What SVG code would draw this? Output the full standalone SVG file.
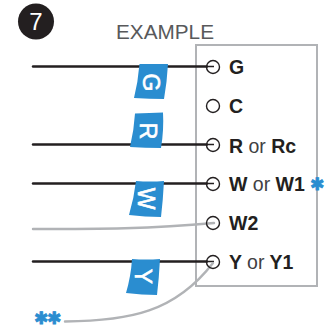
<svg xmlns="http://www.w3.org/2000/svg" width="329" height="328" viewBox="0 0 329 328">
<style>
text{font-family:"Liberation Sans",Arial,sans-serif}
.k{fill:none;stroke:#231f20;stroke-width:2.4;stroke-linecap:round}
.t{fill:none;stroke:#231f20;stroke-width:1.3}
.g{fill:none;stroke:#b1b3b6;stroke-width:2.4;stroke-linecap:round}
.c{fill:none;stroke:#231f20;stroke-width:1.4}
.f{fill:#2a8dd0}
.ft{fill:#fff;stroke:#fff;stroke-width:.6;font-size:23px;text-anchor:middle}
.l{fill:#231f20;font-size:19.500px;font-weight:700}
.o{font-weight:400;fill:#414042}
.s{font-family:"DejaVu Sans",sans-serif;font-size:17px;font-weight:700;fill:#2a8dd0;stroke:#2a8dd0;stroke-width:.8}
</style>
<rect id="box" x="196" y="45" width="121" height="241" fill="#fff" stroke="#b1b3b6" stroke-width="2"/>
<g id="badge"><circle cx="36" cy="21.500" r="18" fill="#231f20"/><text x="36" y="30" font-size="24" fill="#fff" text-anchor="middle">7</text></g>
<text id="example" x="116" y="39" font-size="20.500" fill="#58595b" textLength="98" lengthAdjust="spacingAndGlyphs">EXAMPLE</text>
<g id="connectors">
<path class="k" d="M33 66.500H207"/>
<path class="k" d="M33 144.500H207"/>
<path class="k" d="M33 183.500H207"/>
<path class="k" d="M33 261.500H207"/>
<path class="t" d="M207 66.500H214M207 144.500H214M207 183.500H214M207 261.500H214"/>
<path class="g" d="M33 229C100 229 150 229 214 223"/>
<path class="g" d="M65 321.500C130 321 175 312 213 263"/>
</g>
<g id="flag-g"><path class="f" d="M139.500 64L168 64Q167 82 164 99Q150 99 134 98Q138 82 139.500 64Z"/><text class="ft" transform="translate(142.500 82.500) rotate(90)">G</text></g>
<g id="flag-r"><path class="f" d="M135 113.500Q150 113 163 112.500Q164 130 161 148Q145 148 130 147Q134 130 135 113.500Z"/><text class="ft" transform="translate(140 131) rotate(90)">R</text></g>
<g id="flag-w"><path class="f" d="M136 181Q150 182 164 181Q163 200 161 217Q145 217 129 215Q134 198 136 181Z"/><text class="ft" transform="translate(138 198.500) rotate(90)">W</text></g>
<g id="flag-y"><path class="f" d="M132 259Q146 260 160 259Q159 278 157 295Q142 295 126 293Q131 276 132 259Z"/><text class="ft" transform="translate(135 276.500) rotate(90)">Y</text></g>
<g id="t-g"><circle class="c" cx="213" cy="67" r="6.500"/><text class="l" x="229" y="74">G</text></g>
<g id="t-c"><circle class="c" cx="213" cy="106" r="6.500"/><text class="l" x="229" y="113">C</text></g>
<g id="t-r"><circle class="c" cx="213" cy="145" r="6.500"/><text class="l" x="229" y="153">R <tspan class="o">or</tspan> Rc</text></g>
<g id="t-w"><circle class="c" cx="213" cy="184" r="6.500"/><text class="l" x="229" y="191">W <tspan class="o">or</tspan> W1</text><text class="s" x="310" y="190">✱</text></g>
<g id="t-w2"><circle class="c" cx="213" cy="223" r="6.500"/><text class="l" x="229" y="230">W2</text></g>
<g id="t-y"><circle class="c" cx="213" cy="262" r="6.500"/><text class="l" x="229" y="269">Y <tspan class="o">or</tspan> Y1</text></g>
<text id="stars" class="s" x="34 47" y="324">✱✱</text>
</svg>
